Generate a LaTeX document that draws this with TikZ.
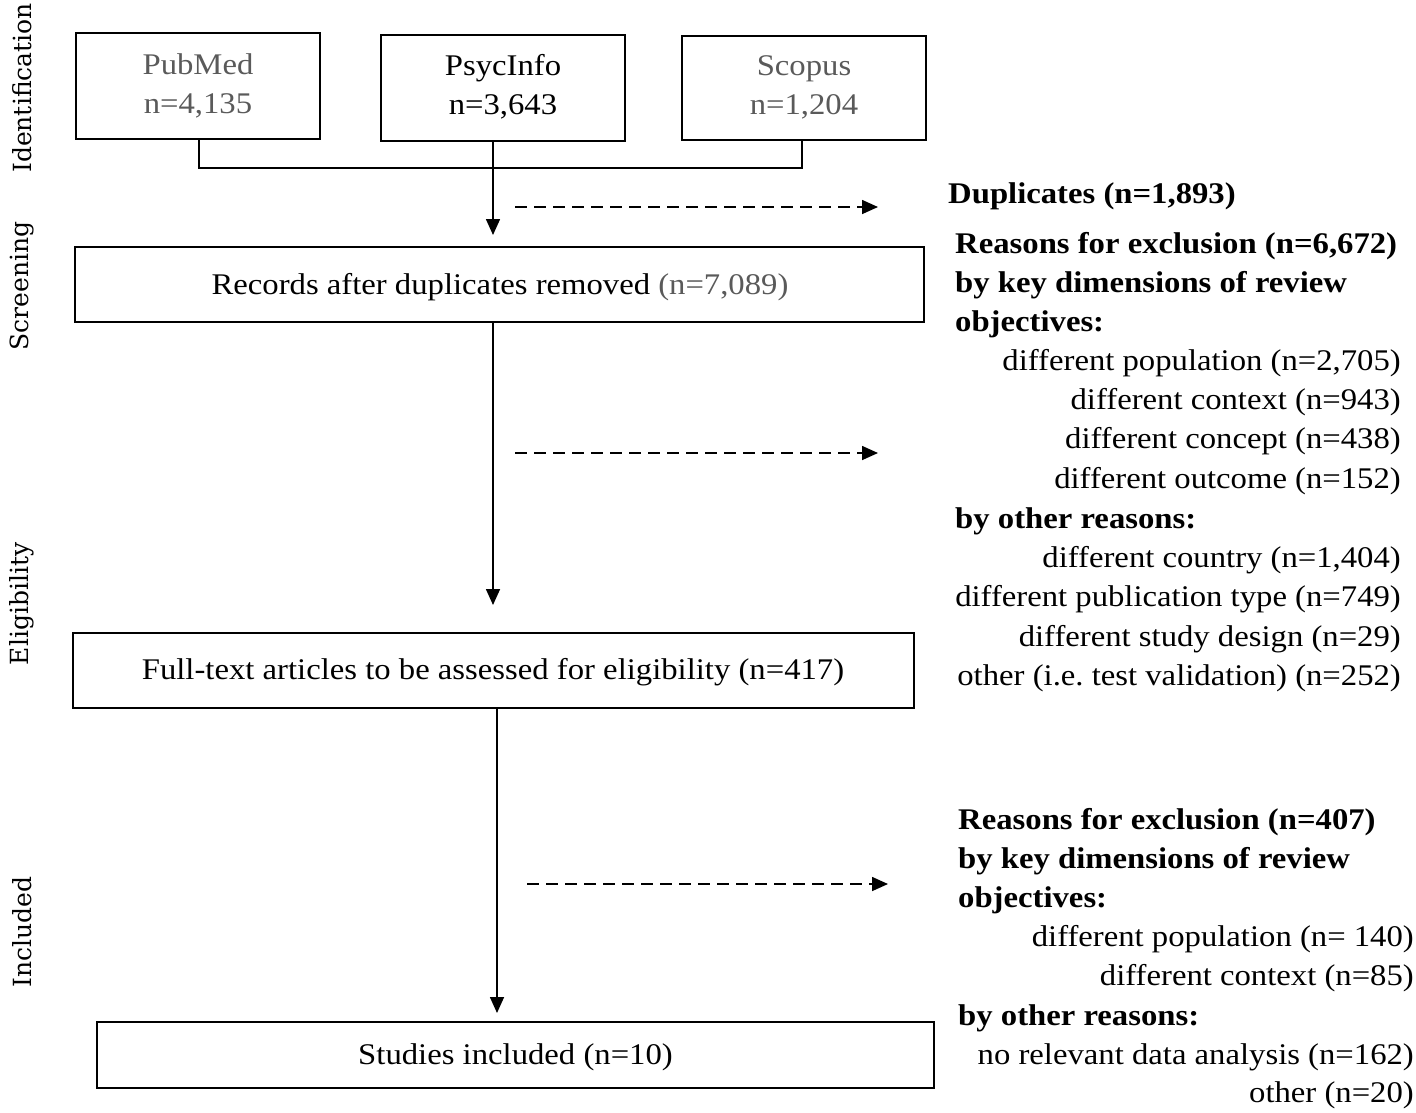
\documentclass[tikz,border=0pt]{standalone}
\usepackage{fontspec}
\setmainfont[FakeStretch=1.09]{Liberation Serif}
\newfontfamily\sidefont{DejaVu Serif}
\usetikzlibrary{arrows.meta}
\definecolor{gtext}{HTML}{5A5A5A}
\begin{document}
\begin{tikzpicture}[x=1pt,y=-1pt,
  box/.style={draw=black,line width=2pt,inner sep=0pt},
  mainbox/.style={draw=black,line width=2.6pt,inner sep=0pt},
  conn/.style={line width=1.6pt},
  arr/.style={line width=1.6pt,-{Triangle[length=16pt,width=14pt]}},
  darr/.style={line width=1.6pt,dash pattern=on 12pt off 7pt,-{Triangle[length=16pt,width=14pt]}},
  txt/.style={font=\fontsize{30}{39}\selectfont,inner sep=0pt},
  lt/.style={txt,anchor=base west,font=\fontsize{30}{39}\selectfont\bfseries},
  rt/.style={txt,anchor=base east},
  side/.style={font=\sidefont\fontsize{25}{30}\selectfont,rotate=90,inner sep=0pt}]
\useasboundingbox (0,0) rectangle (1416,1112);
% side labels
\node[side] (sid) at (22,88) {Identification};
\node[side] (scr) at (22,286) {Screening};
\node[side] (eli) at (22,604) {Eligibility};
\node[side] (inc) at (22,932) {Included};
% top boxes
\node[box,minimum width=244pt,minimum height=106pt] (pub) at (198,86) {};
\node[txt,text=gtext,align=center] (pubt) at (198,86) {PubMed\\n=4,135};
\node[box,minimum width=244pt,minimum height=106pt] (psy) at (503,88) {};
\node[txt,align=center] (psyt) at (503,87) {PsycInfo\\n=3,643};
\node[box,minimum width=244pt,minimum height=104pt] (sco) at (804,88) {};
\node[txt,text=gtext,align=center] (scot) at (804,87) {Scopus\\n=1,204};
% main boxes
\node[mainbox,minimum width=849pt,minimum height=75pt] (rec) at (499.5,284.5) {};
\node[txt] (rect) at (500,287) {Records after duplicates removed \textcolor{gtext}{(n=7,089)}};
\node[mainbox,minimum width=841pt,minimum height=75pt] (ful) at (493.5,670.5) {};
\node[txt] (fult) at (493,672) {Full-text articles to be assessed for eligibility (n=417)};
\node[mainbox,minimum width=837pt,minimum height=66pt] (stu) at (515.5,1055) {};
\node[txt] (stut) at (515.5,1057) {Studies included (n=10)};
% connectors
\coordinate (j1) at (199,168);
\coordinate (j2) at (802,168);
\draw[conn] (pub.south -| j1) -- (j1) -- (j2) -- (sco.south -| j2);
\draw[arr] (psy.south -| 493,0) -- (493,235);
\draw[arr] (rec.south -| 493,0) -- (493,605);
\draw[arr] (ful.south -| 497,0) -- (497,1013);
\coordinate (d1a) at (515,207); \coordinate (d1b) at (878,207);
\coordinate (d2a) at (515,453); \coordinate (d2b) at (878,453);
\coordinate (d3a) at (527,884); \coordinate (d3b) at (888,884);
\draw[darr] (d1a) -- (d1b);
\draw[darr] (d2a) -- (d2b);
\draw[darr] (d3a) -- (d3b);
% right texts block 1
\node[lt] (dup) at (948,203) {Duplicates (n=1,893)};
% block 2
\node[lt] (r1) at (955,253) {Reasons for exclusion (n=6,672)};
\node[lt] (r2) at (955,292) {by key dimensions of review};
\node[lt] (r3) at (955,331) {objectives:};
\node[rt] (r4) at (1401,370) {different population (n=2,705)};
\node[rt] (r5) at (1401,409) {different context (n=943)};
\node[rt] (r6) at (1401,448) {different concept (n=438)};
\node[rt] (r7) at (1401,488) {different outcome (n=152)};
\node[lt] (r8) at (955,528) {by other reasons:};
\node[rt] (r9) at (1401,567) {different country (n=1,404)};
\node[rt] (r10) at (1401,606) {different publication type (n=749)};
\node[rt] (r11) at (1401,646) {different study design (n=29)};
\node[rt] (r12) at (1401,685) {other (i.e.\ test validation) (n=252)};
% block 3
\node[lt] (s1) at (958,829) {Reasons for exclusion (n=407)};
\node[lt] (s2) at (958,868) {by key dimensions of review};
\node[lt] (s3) at (958,907) {objectives:};
\node[rt] (s4) at (1414,946) {different population (n= 140)};
\node[rt] (s5) at (1414,985) {different context (n=85)};
\node[lt] (s6) at (958,1025) {by other reasons:};
\node[rt] (s7) at (1414,1064) {no relevant data analysis (n=162)};
\node[rt] (s8) at (1414,1102) {other (n=20)};
\end{tikzpicture}
\end{document}
